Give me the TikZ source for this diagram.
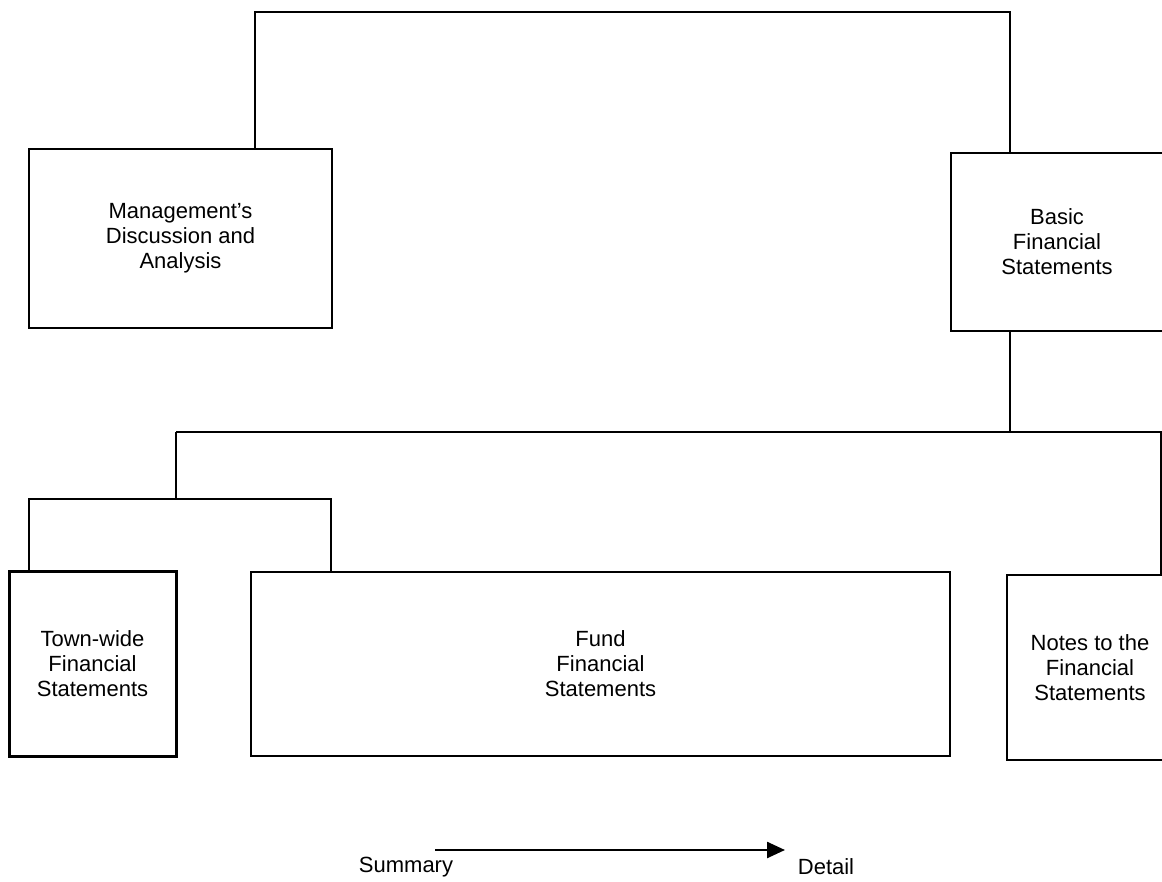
\documentclass[tikz,border=0pt]{standalone}
\usepackage{fontspec}
\setmainfont{Liberation Sans}
\usetikzlibrary{arrows.meta}
\tikzset{
  box/.style={draw=black, line width=2pt, inner sep=0pt, align=center,
    font=\fontsize{22}{25}\selectfont},
  thickbox/.style={box, line width=3pt},
  conn/.style={draw=black, line width=2pt},
  lbl/.style={inner sep=0pt, font=\fontsize{22}{25}\selectfont},
}
\begin{document}
\begin{tikzpicture}[x=1pt,y=-1pt]
\clip (0,0) rectangle (1162,882);
\fill[white] (0,0) rectangle (1162,882);

\node[box, minimum width=303pt, minimum height=179pt] (mda) at (180.5,238.5)
  {Management's\\Discussion and\\Analysis};
\node[box, minimum width=212pt, minimum height=178pt] (basic) at (1057,242)
  {Basic\\Financial\\Statements};
\node[thickbox, minimum width=167pt, minimum height=185pt] (town) at (92.5,663.5)
  {Town-wide\\Financial\\Statements};
\node[box, minimum width=699pt, minimum height=184pt] (fund) at (600.5,664)
  {Fund\\Financial\\Statements};
\node[box, minimum width=166pt, minimum height=185pt] (notes) at (1090,667.5)
  {Notes to the\\Financial\\Statements};

\coordinate (topc) at (600,12);
\coordinate (hubL) at (176,432);
\coordinate (hubR) at (1161,432);
\coordinate (sub) at (176,499);

\draw[conn] ([xshift=74.5pt]mda.north) |- (topc) -| ([xshift=-47pt]basic.north);
\draw[conn] ([xshift=-47pt]basic.south) -- ([xshift=-47pt]basic.south |- hubR);
\draw[conn] (hubL) -- (hubR) -- ([xshift=71pt]notes.north);
\draw[conn] (hubL) -- (sub);
\draw[conn] ([xshift=-63.5pt]town.north) |- (sub) -| ([xshift=-269.5pt]fund.north);

\coordinate (a1) at (435,850);
\coordinate (a2) at (785,850);
\draw[line width=2.5pt, -{Triangle[length=18pt,width=16pt]}] (a1) -- (a2);
\node[lbl] (sum) at (406,867) {Summary};
\node[lbl] (det) at (826,867) {Detail};
\end{tikzpicture}
\end{document}
